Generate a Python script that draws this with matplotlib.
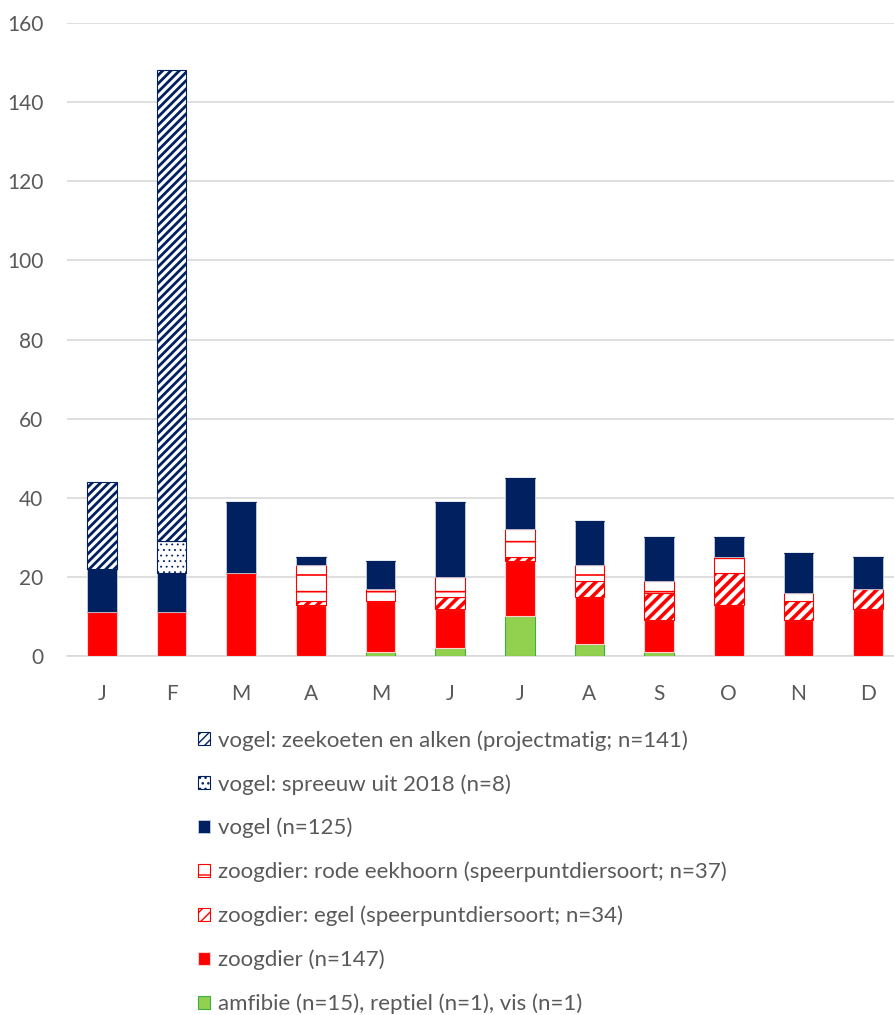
import matplotlib
matplotlib.use("Agg")
import matplotlib.pyplot as plt
import numpy as np

months = ["J", "F", "M", "A", "M", "J", "J", "A", "S", "O", "N", "D"]

amfibie  = [0, 0, 0, 0, 1, 2, 10, 3, 1, 0, 0, 0]
zoogdier = [11, 11, 21, 13, 13, 10, 14, 12, 8, 13, 9, 12]
egel     = [0, 0, 0, 1, 0, 3, 1, 4, 7, 8, 5, 5]
eekhoorn = [0, 0, 0, 9, 3, 5, 7, 4, 3, 4, 2, 0]
vogel    = [11, 10, 18, 2, 7, 19, 13, 11, 11, 5, 10, 8]
spreeuw  = [0, 8, 0, 0, 0, 0, 0, 0, 0, 0, 0, 0]
zeekoet  = [22, 119, 0, 0, 0, 0, 0, 0, 0, 0, 0, 0]

labels = {
    "zeekoet": "vogel: zeekoeten en alken (projectmatig; n=141)",
    "spreeuw": "vogel: spreeuw uit 2018 (n=8)",
    "vogel": "vogel (n=125)",
    "eekhoorn": "zoogdier: rode eekhoorn (speerpuntdiersoort; n=37)",
    "egel": "zoogdier: egel (speerpuntdiersoort; n=34)",
    "zoogdier": "zoogdier (n=147)",
    "amfibie": "amfibie (n=15), reptiel (n=1), vis (n=1)",
}

navy = "#002060"
red = "#ff0000"
green = "#92d050"
grey = "#595959"

plt.rcParams['font.family'] = ['Lato', 'DejaVu Sans']

fig = plt.figure(figsize=(8.94, 10.15), dpi=100)
# plot area: x from ~67px to ~903px (right part cut off), y from 23px to 656px
ax = fig.add_axes([67 / 894, 1 - 656 / 1015, 836 / 894, 633 / 1015])

x = np.arange(len(months))
w = 0.43
bottom = np.zeros(len(months))
handles = {}

def stack(key, vals, **kw):
    global bottom
    hlw = kw.pop("hlw", 1.0)
    with plt.rc_context({"hatch.linewidth": hlw}):
        b = ax.bar(x, vals, w, bottom=bottom, zorder=3, **kw)
    bottom = bottom + np.array(vals)
    handles[key] = b

stack("amfibie", amfibie, color=green, edgecolor="#3cb043", linewidth=0.8)
stack("zoogdier", zoogdier, color=red, edgecolor="#ffd0d0", linewidth=0.8)
stack("egel", egel, facecolor="white", edgecolor=red, hatch="///", linewidth=0.8, hlw=2.6)
stack("eekhoorn", eekhoorn, facecolor="white", edgecolor=red, hatch="-", linewidth=0.8, hlw=1.2)
stack("vogel", vogel, color=navy, edgecolor="#c8d0e0", linewidth=0.6)
stack("spreeuw", spreeuw, facecolor="white", edgecolor=navy, hatch="...", linewidth=0.8, hlw=0.6)
stack("zeekoet", zeekoet, facecolor="white", edgecolor=navy, hatch="////", linewidth=0.8, hlw=2.0)

ax.set_xlim(-0.5, len(months) - 0.5)
ax.set_ylim(0, 160)
ax.set_yticks(range(0, 161, 20))
ax.set_xticks(x)
ax.set_xticklabels(months)
ax.yaxis.grid(True, color="#d9d9d9", linewidth=1.2, zorder=0)
ax.set_axisbelow(True)
for s in ["top", "right", "left"]:
    ax.spines[s].set_visible(False)
ax.spines["bottom"].set_color("#d9d9d9")
ax.spines["bottom"].set_linewidth(1.2)
ax.tick_params(axis="both", length=0, colors=grey, labelsize=15)
ax.tick_params(axis="y", pad=17)
ax.tick_params(axis="x", pad=20)

order = ["zeekoet", "spreeuw", "vogel", "eekhoorn", "egel", "zoogdier", "amfibie"]
leg = fig.legend([handles[k] for k in order], [labels[k] for k in order],
                 loc="upper left", bbox_to_anchor=(198 / 894, 1 - 730 / 1015),
                 frameon=False, fontsize=16, labelspacing=1.05,
                 handlelength=0.55, handleheight=0.55, handletextpad=0.35,
                 borderaxespad=0, borderpad=0)
for t in leg.get_texts():
    t.set_color(grey)

fig.savefig("out.png", dpi=100)
